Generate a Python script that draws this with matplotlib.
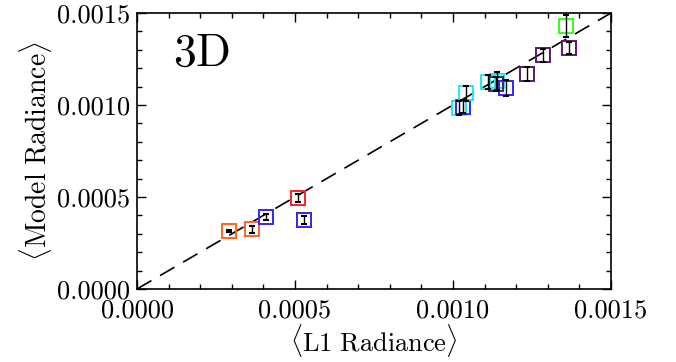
import numpy as np
import matplotlib
matplotlib.use('Agg')
import matplotlib.pyplot as plt
from matplotlib.ticker import MultipleLocator, FormatStrFormatter

# Input: mean radiances per region (L1 vs model)
l1_rad = [0.000292, 0.000365, 0.000408, 0.000509, 0.000528,
          0.001020, 0.001033, 0.001041, 0.001112, 0.001138,
          0.001135, 0.001167, 0.001235, 0.001286, 0.001359, 0.001367]
model_rad = [0.000315, 0.000324, 0.000391, 0.000495, 0.000375,
             0.000982, 0.000991, 0.001063, 0.001125, 0.001132,
             0.001114, 0.001092, 0.001168, 0.001270, 0.001431, 0.001310]
model_err = [0.000005, 0.000020, 0.000015, 0.000020, 0.000022,
             0.000038, 0.000034, 0.000039, 0.000040, 0.000049,
             0.000040, 0.000042, 0.000040, 0.000034, 0.000060, 0.000031]
colors = ['#ff6420', '#ff6420', '#3228f0', '#ff2020', '#3228f0',
          '#20e8f0', '#3228f0', '#20e8f0', '#20e8f0', '#20e8f0',
          '#5a1a6e', '#3228f0', '#5a1a6e', '#5a1a6e', '#30ff20', '#5a1a6e']

plt.rcParams['font.family'] = 'cmr10'
plt.rcParams['mathtext.fontset'] = 'cm'
plt.rcParams['axes.formatter.use_mathtext'] = True

fig = plt.figure(figsize=(6.76, 3.62), dpi=100)
ax = fig.add_axes([0.2027, 0.2017, 0.7011, 0.7623])

# one-to-one line
ax.plot([0, 0.0015], [0, 0.0015], color='k', lw=1.2, dashes=(10, 6))

for x, y, c in zip(l1_rad, model_rad, colors):
    ax.plot(x, y, marker='s', ms=9.5, mfc='none', mec=c, mew=1.4, ls='none')
ax.errorbar(l1_rad, model_rad, yerr=model_err, fmt='none', ecolor='k',
            elinewidth=1.0, capsize=2.5, capthick=1.5)

ax.set_xlim(0, 0.0015)
ax.set_ylim(0, 0.0015)
ax.xaxis.set_major_locator(MultipleLocator(0.0005))
ax.yaxis.set_major_locator(MultipleLocator(0.0005))
ax.xaxis.set_minor_locator(MultipleLocator(0.0001))
ax.yaxis.set_minor_locator(MultipleLocator(0.0001))
ax.xaxis.set_major_formatter(FormatStrFormatter('%.4f'))
ax.yaxis.set_major_formatter(FormatStrFormatter('%.4f'))
ax.tick_params(which='both', direction='in', top=True, right=True,
               labelsize=19, width=1.0)
ax.tick_params(which='major', length=6.5)
ax.tick_params(which='minor', length=3.3)
ax.tick_params(axis='x', pad=7)
ax.tick_params(axis='y', pad=5)
for s in ax.spines.values():
    s.set_linewidth(1.2)

ax.set_xlabel(r'$\langle\mathrm{L1\ Radiance}\rangle$', fontsize=19, labelpad=0)
ax.set_ylabel(r'$\langle\mathrm{Model\ Radiance}\rangle$', fontsize=20, labelpad=2)
ax.text(0.075, 0.81, r'$\mathrm{3D}$', transform=ax.transAxes, fontsize=33)

fig.savefig('out.png', dpi=100)
